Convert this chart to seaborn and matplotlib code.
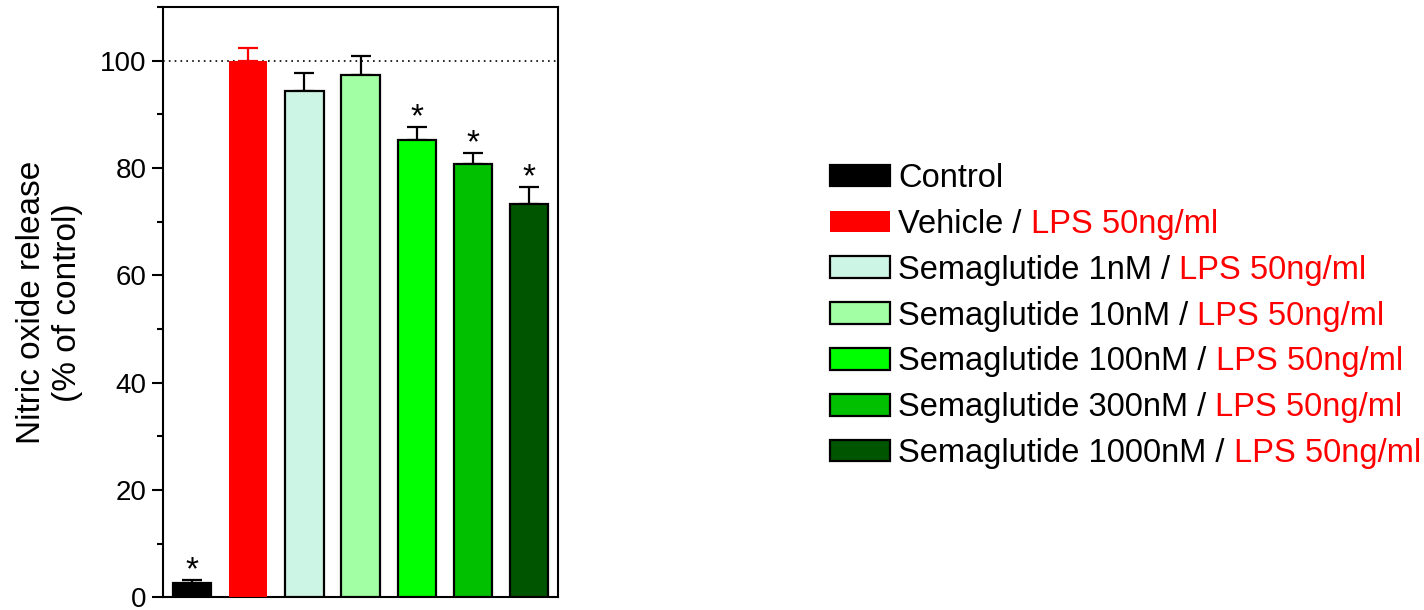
import matplotlib
matplotlib.use("Agg")
import matplotlib.pyplot as plt
from matplotlib.patches import Patch
from matplotlib.ticker import MultipleLocator
from matplotlib.transforms import IdentityTransform
import pandas as pd
import seaborn as sns

# Nitric oxide release per treatment group (% of control), mean and SEM
groups = ["Control", "Vehicle", "Semaglutide 1nM", "Semaglutide 10nM",
          "Semaglutide 100nM", "Semaglutide 300nM", "Semaglutide 1000nM"]
no_release = [2.7, 100.0, 94.3, 97.3, 85.3, 80.8, 73.3]
sem = [0.5, 2.4, 3.5, 3.5, 2.3, 2.0, 3.1]
significant = [True, False, False, False, True, True, True]
bar_colors = ["#000000", "#ff0000", "#ccf5e6", "#a3ffa3",
              "#00ff00", "#00c000", "#005500"]
lps_label = "LPS 50ng/ml"
y_ticks = [0, 20, 40, 60, 80, 100]

sns.set_theme(style="ticks", rc={
    "axes.edgecolor": "black", "xtick.color": "black", "ytick.color": "black",
    "text.color": "black", "axes.labelcolor": "black",
})
plt.rcParams["font.family"] = ["Liberation Sans", "DejaVu Sans"]

fig = plt.figure(figsize=(14.24, 6.1), dpi=100)
ax = fig.add_axes([0.1145, 0.0205, 0.2774, 0.968])

df = pd.DataFrame({"group": groups, "value": no_release})
sns.barplot(data=df, x="group", y="value", hue="group", hue_order=groups,
            order=groups, palette=bar_colors, saturation=1, width=0.68,
            legend=False, errorbar=None, ax=ax, zorder=3)

for container, color in zip(ax.containers, bar_colors):
    for bar in container:
        bar.set_edgecolor("none" if color == "#ff0000" else "black")
        bar.set_linewidth(1.6)

# upward-only SEM bars
for i, (v, e, color) in enumerate(zip(no_release, sem, bar_colors)):
    ecol = "#ff0000" if color == "#ff0000" else "black"
    ax.errorbar(i, v, yerr=[[0], [e]], fmt="none", ecolor=ecol,
                elinewidth=1.6, capsize=7, capthick=1.6, zorder=2)
    if significant[i]:
        ax.annotate("*", xy=(i, v + e), xytext=(0, 7),
                    textcoords="offset points", ha="center", va="center",
                    fontsize=24, zorder=4)

ax.axhline(100, color="black", linestyle=(0, (1, 2.5)), linewidth=1.2, zorder=1)

ax.set_xlim(-0.52, len(groups) - 0.48)
ax.set_ylim(0, 110)
ax.set_yticks(y_ticks)
ax.yaxis.set_minor_locator(MultipleLocator(10))
ax.set_xticks([])
ax.set_xlabel("")
ax.set_ylabel("Nitric oxide release\n(% of control)", fontsize=24, labelpad=12)
ax.tick_params(axis="y", which="major", length=8, width=1.5, labelsize=20, pad=4)
ax.tick_params(axis="y", which="minor", length=4.5, width=1.5)
for side in ["left", "right", "top", "bottom"]:
    ax.spines[side].set_visible(True)
    ax.spines[side].set_linewidth(1.5)
    ax.spines[side].set_color("black")

legend_size = 23.5
handles = [Patch(facecolor=c, edgecolor=("none" if c == "#ff0000" else "black"),
                 linewidth=1.6) for c in bar_colors]
labels = ["Control"] + [g + " /" for g in groups[1:]]
leg = fig.legend(handles, labels, loc="upper left",
                 bbox_to_anchor=(830 / 1424, 1 - 163 / 610), frameon=False,
                 fontsize=legend_size, handlelength=1.84, handleheight=0.64,
                 handletextpad=0.25, labelspacing=0.455, borderpad=0,
                 borderaxespad=0)

fig.canvas.draw()
for txt in leg.get_texts()[1:]:
    bb = txt.get_window_extent()
    fig.text(bb.x1, bb.y0, " " + lps_label, transform=IdentityTransform(),
             ha="left", va="bottom", color="#ff0000", fontsize=legend_size)

fig.savefig("out.png", dpi=100)
